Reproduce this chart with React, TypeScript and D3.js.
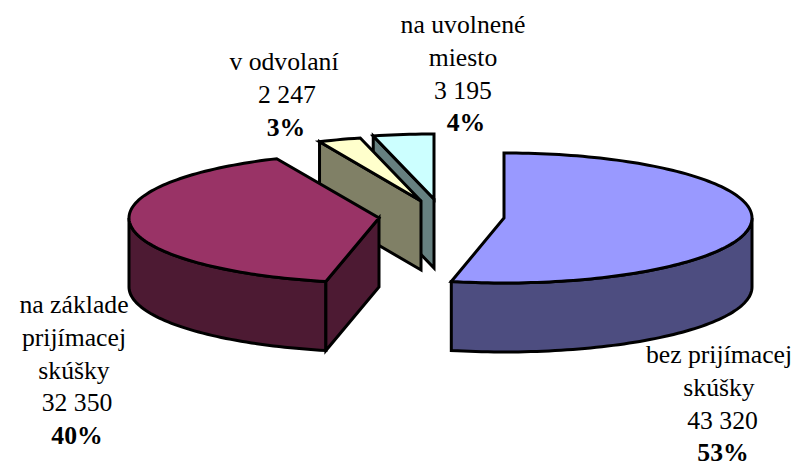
import React from "react";
import * as d3 from "d3";

const categories = ["bez prijímacej skúšky", "na základe prijímacej skúšky", "v odvolaní", "na uvoľnené miesto"];
const values = [43320, 32350, 2247, 3195];
const topColors = ["#9999FF", "#993366", "#FFFFCC", "#CCFFFF"];
const wallColors = ["#4D4D80", "#4D1A33", "#808066", "#668080"];
const apexX = [504, 379, 421, 434];
const apexY = [218, 218, 201, 199];
const radiusX = [248, 250, 248, 248];
const labelLines = [
  ["bez prijímacej", "skúšky", "43 320"],
  ["na základe", "prijímacej", "skúšky", "32 350"],
  ["v odvolaní", "2 247"],
  ["na uvolnené", "miesto", "3 195"],
];
const labelPercents = ["53%", "40%", "3%", "4%"];
const labelCx = [719, 74, 284, 463];
const labelBaseline = [363, 313, 70, 33];
const numberShift = [3.5, 3, 3, 0];
const percentShift = [4, 3, 2, 3];

const RY = 65;
const DEPTH = 69;
const LH = 32.8;
const FONT = '"Liberation Serif", "Times New Roman", serif';

const arcs = d3.pie<number>().sort(null).value((d) => d)(values);
const line = d3.line<[number, number]>();

function rim(i: number, a0: number, a1: number, dz = 0): [number, number][] {
  const n = Math.max(2, Math.ceil(Math.abs(a1 - a0) * 40));
  return d3.range(n + 1).map((k) => {
    const a = a0 + ((a1 - a0) * k) / n;
    return [apexX[i] + radiusX[i] * Math.sin(a), apexY[i] - RY * Math.cos(a) + dz] as [number, number];
  });
}

function Slice({ i }: { i: number }) {
  const { startAngle: s, endAngle: e } = arcs[i];
  const apex: [number, number] = [apexX[i], apexY[i]];
  const paths: string[] = [];
  const lo = Math.max(s, Math.PI / 2);
  const hi = Math.min(e, (3 * Math.PI) / 2);
  if (hi > lo) {
    const pts = [...rim(i, lo, hi), ...rim(i, hi, lo, DEPTH)];
    paths.push(line(pts)! + "Z");
  }
  if (s > Math.PI) {
    const p = rim(i, s, s)[0];
    paths.push(
      line([apex, p, [p[0], p[1] + DEPTH], [apex[0], apex[1] + DEPTH]])! + "Z"
    );
  }
  const top = line([apex, ...rim(i, s, e)])! + "Z";
  return (
    <g stroke="#000" strokeWidth={3} strokeLinejoin="miter">
      {paths.map((d, k) => (
        <path key={k} d={d} fill={wallColors[i]} />
      ))}
      <path d={top} fill={topColors[i]} />
    </g>
  );
}

export default function App() {
  return (
    <svg
      width={798}
      height={465}
      viewBox="0 0 798 465"
      style={{ position: "absolute", left: 0, top: 0, background: "#fff" }}
    >
      {[3, 2, 1, 0].map((i) => (
        <Slice key={categories[i]} i={i} />
      ))}
      {labelLines.map((lines, i) => (
        <text
          key={i}
          textAnchor="middle"
          fontFamily={FONT}
          fontSize={25.7}
          fill="#000"
        >
          {lines.map((t, k) => (
            <tspan
              key={k}
              x={labelCx[i] + (k === lines.length - 1 ? numberShift[i] : 0)}
              y={labelBaseline[i] + LH * k}
            >
              {t}
            </tspan>
          ))}
          <tspan
            x={labelCx[i] + percentShift[i]}
            y={labelBaseline[i] + LH * lines.length}
            fontWeight="bold"
          >
            {labelPercents[i]}
          </tspan>
        </text>
      ))}
    </svg>
  );
}
